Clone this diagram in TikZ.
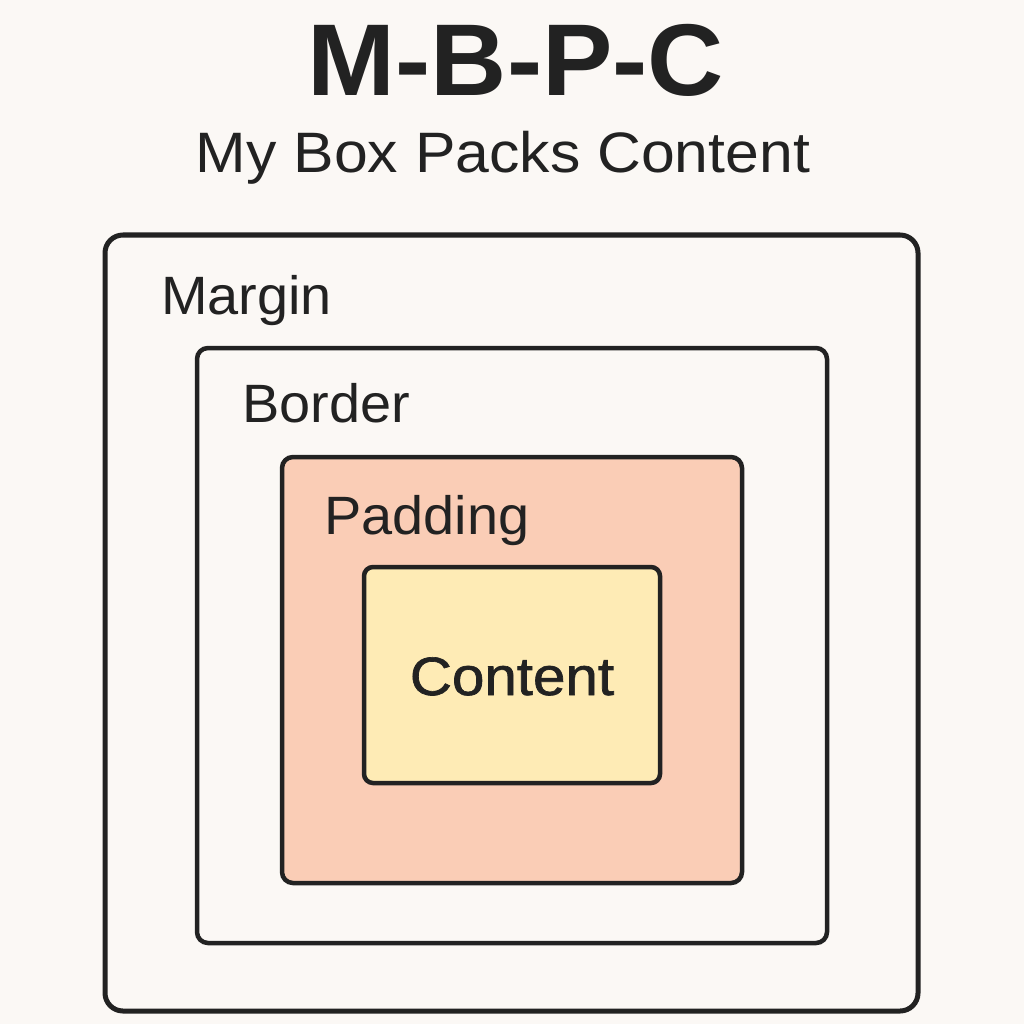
\documentclass[tikz,border=0pt]{standalone}
\usepackage{fontspec}
\setmainfont{Liberation Sans}
\newfontfamily\labelfont{Liberation Sans}
\newfontfamily\semifont[FakeBold=1.2]{Liberation Sans}
\definecolor{paper}{HTML}{FBF8F5}
\definecolor{ink}{HTML}{222222}
\definecolor{padfill}{HTML}{FACDB6}
\definecolor{contentfill}{HTML}{FEEBB5}
\tikzset{
  layer/.style={draw=ink, rectangle, rounded corners=#1, inner sep=0pt},
  caption/.style={anchor=base west, inner sep=0pt, text=ink, xscale=1.035,
    font=\labelfont\fontsize{54}{54}\selectfont},
}
\begin{document}
\begin{tikzpicture}[x=1pt, y=-1pt]
  \useasboundingbox (0,0) rectangle (1024,1024);
  \fill[paper] (0,0) rectangle (1024,1024);

  % title and subtitle
  \node[anchor=base, inner sep=0pt, text=ink, font=\fontsize{102}{102}\selectfont\bfseries, xscale=1.035] (title) at (516,96) {M-B-P-C};
  \node[anchor=base, inner sep=0pt, text=ink, font=\fontsize{57}{57}\selectfont, xscale=1.065] (subtitle) at (503,173) {My Box Packs Content};

  % nested boxes, outermost first
  \node[layer=18pt, line width=5pt, minimum width=813pt, minimum height=776pt] (margin) at (511.5,623) {};
  \node[layer=11pt, line width=4.5pt, minimum width=630pt, minimum height=595pt] (border) at (512,645.5) {};
  \node[layer=11pt, line width=4.5pt, fill=padfill, minimum width=460pt, minimum height=426pt] (padding) at (512,670) {};
  \node[layer=9pt, line width=4.5pt, fill=contentfill, minimum width=296pt, minimum height=216pt] (content) at (512,675) {};

  % layer labels
  \node[caption] (marginlabel) at (161,314) {Margin};
  \node[caption] (borderlabel) at (242,422) {Border};
  \node[caption] (paddinglabel) at (324,534) {Padding};
  \node[anchor=base, inner sep=0pt, text=ink, font=\semifont\fontsize{54}{54}\selectfont, xscale=1.08] (contentlabel) at (512,695) {Content};
\end{tikzpicture}
\end{document}
